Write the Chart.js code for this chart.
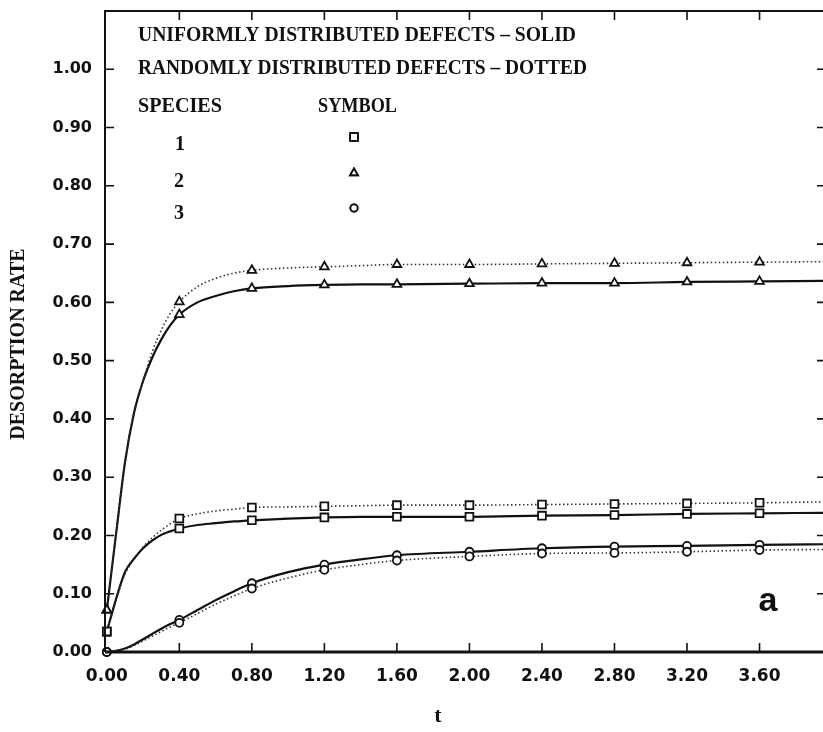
<!DOCTYPE html>
<html lang="en">
<head>
<meta charset="UTF-8">
<title>Desorption rate</title>
<script src="https://cdn.jsdelivr.net/npm/chart.js"></script>
<style>
  html, body { margin: 0; padding: 0; background: #fff; }
</style>
</head>
<body>
<canvas id="grafico" width="823" height="732"></canvas>
<script>
// time grid used to trace the curves
const tempos = [0, 0.05, 0.1, 0.15, 0.2, 0.25, 0.3, 0.35, 0.4, 0.5, 0.6, 0.7, 0.8, 1.0, 1.2, 1.4, 1.6, 2.0, 2.4, 2.8, 3.2, 3.6, 4.0]
// times where a symbol is plotted
const temposSimbolo = [0, 0.4, 0.8, 1.2, 1.6, 2.0, 2.4, 2.8, 3.2, 3.6]

// species 1 (square)
const esp1Uniforme  = [0.035, 0.090, 0.137, 0.160, 0.178, 0.191, 0.201, 0.207, 0.212, 0.218, 0.221, 0.224, 0.226, 0.229, 0.231, 0.232, 0.232, 0.232, 0.234, 0.235, 0.237, 0.238, 0.239]
const esp1Aleatorio = [0.035, 0.088, 0.133, 0.160, 0.180, 0.196, 0.209, 0.220, 0.229, 0.237, 0.242, 0.245, 0.248, 0.249, 0.250, 0.251, 0.252, 0.252, 0.253, 0.254, 0.255, 0.256, 0.258]
// species 2 (triangle)
const esp2Uniforme  = [0.072, 0.200, 0.325, 0.410, 0.465, 0.505, 0.536, 0.561, 0.579, 0.600, 0.611, 0.619, 0.624, 0.628, 0.630, 0.631, 0.631, 0.632, 0.633, 0.633, 0.635, 0.636, 0.637]
const esp2Aleatorio = [0.072, 0.200, 0.325, 0.412, 0.465, 0.515, 0.552, 0.581, 0.601, 0.627, 0.641, 0.650, 0.655, 0.659, 0.661, 0.663, 0.665, 0.665, 0.666, 0.667, 0.668, 0.669, 0.670]
// species 3 (circle)
const esp3Uniforme  = [0, 0.002, 0.006, 0.013, 0.022, 0.031, 0.040, 0.048, 0.055, 0.072, 0.089, 0.104, 0.118, 0.137, 0.150, 0.159, 0.166, 0.172, 0.178, 0.181, 0.182, 0.184, 0.185]
const esp3Aleatorio = [0, 0.002, 0.005, 0.011, 0.019, 0.027, 0.035, 0.043, 0.050, 0.066, 0.082, 0.096, 0.109, 0.127, 0.141, 0.150, 0.157, 0.164, 0.169, 0.170, 0.172, 0.175, 0.176]

// axis ticks
const ticksX = [0, 0.4, 0.8, 1.2, 1.6, 2.0, 2.4, 2.8, 3.2, 3.6]
const ticksY = [0, 0.1, 0.2, 0.3, 0.4, 0.5, 0.6, 0.7, 0.8, 0.9, 1.0]

const pontos = (valores) => tempos.map((t, i) => ({ x: t, y: valores[i] }))

const serie = (valores, simbolo, raio, pontilhado) => ({
  data: pontos(valores),
  showLine: true,
  borderColor: pontilhado ? '#333' : '#111',
  borderWidth: pontilhado ? 1.6 : 2.2,
  borderDash: pontilhado ? [1.5, 2.5] : [],
  cubicInterpolationMode: 'monotone',
  pointStyle: simbolo,
  pointRadius: ctx => (ctx.raw && temposSimbolo.includes(ctx.raw.x)) ? raio : 0,
  pointBackgroundColor: '#fff',
  pointBorderColor: '#111',
  pointBorderWidth: 1.8,
  clip: false
})

// write text squeezed/stretched to a given width
const textoLargura = (c, txt, x, y, w) => {
  const m = c.measureText(txt).width
  c.save()
  c.translate(x, y)
  c.scale(w / m, 1)
  c.fillText(txt, 0, 0)
  c.restore()
}

const moldura = {
  id: 'moldura',
  afterDraw(chart) {
    const c = chart.ctx
    const { left, right, top, bottom } = chart.chartArea
    const sx = chart.scales.x, sy = chart.scales.y
    c.save()
    c.strokeStyle = '#111'
    c.fillStyle = '#111'

    // frame
    c.lineWidth = 2
    c.beginPath()
    c.moveTo(left, bottom); c.lineTo(left, top); c.lineTo(right, top)
    c.stroke()
    c.lineWidth = 3
    c.beginPath(); c.moveTo(left, bottom); c.lineTo(right, bottom); c.stroke()

    // inward tick marks on all four sides
    c.lineWidth = 1.6
    c.beginPath()
    sx.ticks.forEach(tk => {
      const px = sx.getPixelForValue(tk.value)
      if (tk.value > 0) {
        c.moveTo(px, bottom); c.lineTo(px, bottom - 9)
        c.moveTo(px, top); c.lineTo(px, top + 9)
      }
    })
    sy.ticks.forEach(tk => {
      const py = sy.getPixelForValue(tk.value)
      if (tk.value > 0) {
        c.moveTo(left, py); c.lineTo(left + 9, py)
        c.moveTo(right, py); c.lineTo(right - 6, py)
      }
    })
    c.stroke()

    // legend block
    c.textBaseline = 'alphabetic'
    c.textAlign = 'left'
    c.font = 'bold 20px "Liberation Serif"'
    textoLargura(c, 'UNIFORMLY DISTRIBUTED DEFECTS \u2013 SOLID', 138, 41, 438)
    textoLargura(c, 'RANDOMLY DISTRIBUTED DEFECTS \u2013 DOTTED', 138, 74, 449)
    textoLargura(c, 'SPECIES', 138, 112, 84)
    textoLargura(c, 'SYMBOL', 318, 112, 79)
    c.textAlign = 'center'
    c.fillText('1', 180, 150)
    c.fillText('2', 179, 187)
    c.fillText('3', 179, 219)

    const simbolos = [['rect', 5.5, 137], ['triangle', 4.5, 173], ['circle', 3.6, 208]]
    c.lineWidth = 1.8
    simbolos.forEach(([estilo, r, y]) => {
      Chart.helpers.drawPoint(c, { pointStyle: estilo, radius: r, borderWidth: 1.8, rotation: 0 }, 354, y)
      c.fillStyle = '#fff'
      c.fill()
      c.stroke()
      c.fillStyle = '#111'
    })

    // axis titles
    c.save()
    c.translate(24, 344)
    c.rotate(-Math.PI / 2)
    c.textAlign = 'center'
    c.font = 'bold 20px "Liberation Serif"'
    c.fillText('DESORPTION RATE', 0, 0)
    c.restore()

    c.textAlign = 'center'
    c.font = 'bold 22px "Liberation Serif"'
    c.fillText('t', 438, 722)

    // panel letter
    c.font = 'bold 34px "Liberation Sans"'
    c.fillText('a', 768, 611)
    c.restore()
  }
}

const ctx = document.getElementById('grafico')

const grafico = new Chart(ctx, {
  type: 'scatter',
  data: {
    datasets: [
      serie(esp2Aleatorio, 'triangle', 5, true),
      serie(esp2Uniforme, 'triangle', 5, false),
      serie(esp1Aleatorio, 'rect', 5.5, true),
      serie(esp1Uniforme, 'rect', 5.5, false),
      serie(esp3Aleatorio, 'circle', 4, true),
      serie(esp3Uniforme, 'circle', 4, false)
    ]
  },
  options: {
    responsive: false,
    animation: false,
    events: [],
    layout: { autoPadding: false, padding: { top: 11, right: 0, bottom: 0, left: 0 } },
    plugins: {
      legend: { display: false },
      tooltip: { enabled: false }
    },
    scales: {
      x: {
        type: 'linear',
        min: -0.01,
        max: 3.95,
        afterBuildTicks: s => { s.ticks = ticksX.map(v => ({ value: v })) },
        afterFit: s => { s.height = 80; s.paddingLeft = 0; s.paddingRight = 0 },
        grid: { display: false, drawTicks: false },
        border: { display: false },
        ticks: {
          color: '#111',
          padding: 14,
          maxRotation: 0,
          font: { family: '"DejaVu Sans"', size: 17, weight: 'bold' },
          callback: v => Number(v).toFixed(2)
        }
      },
      y: {
        type: 'linear',
        min: 0,
        max: 1.1,
        afterBuildTicks: s => { s.ticks = ticksY.map(v => ({ value: v })) },
        afterFit: s => { s.width = 105; s.paddingTop = 0; s.paddingBottom = 0 },
        grid: { display: false, drawTicks: false },
        border: { display: false },
        ticks: {
          color: '#111',
          padding: 13,
          font: { family: '"DejaVu Sans"', size: 16, weight: 'bold' },
          callback: v => Number(v).toFixed(2)
        }
      }
    }
  },
  plugins: [moldura]
})
</script>
</body>
</html>
